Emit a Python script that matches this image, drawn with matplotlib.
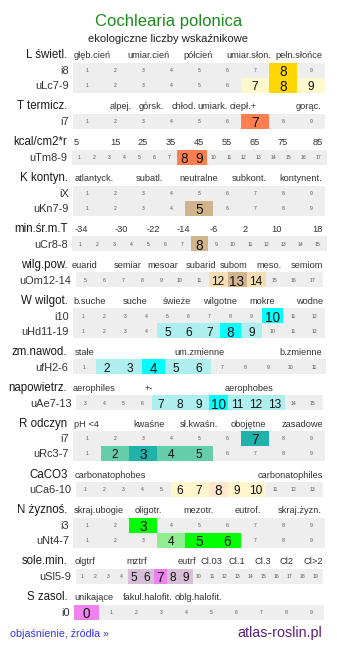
import matplotlib
matplotlib.use("Agg")
import matplotlib.pyplot as plt

plt.rcParams['font.family'] = ['Liberation Sans', 'DejaVu Sans']

# ---------------- data ----------------
title = "Cochlearia polonica"
subtitle = "ekologiczne liczby wskaźnikowe"
footer_left = "objaśnienie, źródła »"
footer_right = "atlas-roslin.pl"

group_names = ["L świetl.", "T termicz.", "kcal/cm2*r", "K kontyn.", "min.śr.m.T",
               "wilg.pow.", "W wilgot.", "zm.nawod.", "napowietrz.", "R odczyn",
               "CaCO3", "N żyznoś.", "sole.min.", "S zasol."]

scale_labels = [
    ["głęb.cień", "umiar.cień", "półcień", "umiar.słon.", "pełn.słońce"],
    ["alpej.", "górsk.", "chłod.", "umiark.", "ciepł.+", "gorąc."],
    ["5", "15", "25", "35", "45", "55", "65", "75", "85"],
    ["atlantyck.", "subatl.", "neutralne", "subkont.", "kontynent."],
    ["-34", "-30", "-22", "-14", "-6", "2", "10", "18"],
    ["euarid", "semiar", "mesoar", "subarid", "subom", "meso.", "semiom"],
    ["b.suche", "suche", "świeże", "wilgotne", "mokre", "wodne"],
    ["stałe", "um.zmienne", "b.zmienne"],
    ["aerophiles", "+-", "aerophobes"],
    ["pH <4", "kwaśne", "sł.kwaśn.", "obojętne", "zasadowe"],
    ["carbonatophobes", "carbonatophiles"],
    ["skraj.ubogie", "oligotr.", "mezotr.", "eutrof.", "skraj.żyzn."],
    ["olgtrf", "mztrf", "eutrf", "Cl.03", "Cl.1", "Cl.3", "Cl2", "Cl>2"],
    ["unikające", "fakul.halofit.", "oblg.halofit."],
]

row_group = [0, 0, 1, 2, 3, 3, 4, 5, 6, 6, 7, 8, 9, 9, 10, 11, 11, 12, 13]
row_names = ["i8", "uLc7-9", "i7", "uTm8-9", "iX", "uKn7-9", "uCr8-8", "uOm12-14",
             "i10", "uHd11-19", "ufH2-6", "uAe7-13", "i7", "uRc3-7", "uCa6-10",
             "i3", "uNt4-7", "uSl5-9", "i0"]
row_first = [1, 1, 1, 1, 1, 1, 1, 5, 1, 1, 1, 3, 1, 1, 1, 1, 1, 1, 0]
row_last = [9, 9, 9, 17, 9, 9, 15, 17, 12, 12, 11, 15, 9, 9, 13, 9, 9, 19, 9]
row_dark = [[8], [8], [7], [8, 9], [], [5], [8], [13], [10], [8], [4], [10],
            [7], [3], [8], [3], [5, 6], [7], [0]]
row_light = [[], [7, 9], [], [], [], [], [], [12, 14], [], [5, 6, 7, 9],
             [2, 3, 5, 6], [7, 8, 9, 11, 12, 13], [], [2, 4, 5], [6, 7, 9, 10],
             [], [4], [5, 6, 8, 9], []]

# ---------------- styles / layout ----------------
group_dark_color = ["#ffd700", "#ff7f50", "#ff7f50", "#d2b48c", "#d2b48c", "#d2b48c",
                    "#00ffff", "#00ffff", "#00ffff", "#20b2aa", "#ffe6cc", "#00ff00",
                    "#ee82ee", "#ee82ee"]
group_light_color = ["#fff8cc", "#ffc8b0", "#ffc8b0", "#f5deb3", "#f5deb3", "#f5deb3",
                     "#afeeee", "#afeeee", "#afeeee", "#66cdaa", "#fff6cc", "#90ee90",
                     "#d8bfd8", "#d8bfd8"]
scale_label_x = [
    [92, 148, 198, 249, 299],
    [121, 151.5, 183.5, 212.5, 243.5, 309],
    [76, 115, 143, 171, 199, 227, 255, 283, 318],
    [94.5, 149, 199, 249, 301],
    [81, 121.5, 153, 183, 214, 245, 276, 317.5],
    [85, 127.5, 162.5, 200.5, 233.5, 269, 307],
    [89.5, 135.5, 177, 220, 262, 310],
    [85, 199.5, 301],
    [94.5, 149, 249],
    [86, 149, 198.5, 248.5, 302],
    [110, 290.5],
    [99, 148.5, 198.5, 247.5, 300],
    [85, 136.5, 186.5, 211, 237, 262.5, 286, 313.5],
    [93.5, 148, 198],
]

W, H = 337, 649
BAR_X0, BAR_W = 73, 252
ROW_H = 15
GRAY = "#eeeeee"

fig = plt.figure(figsize=(W / 100, H / 100), dpi=100)
ax = fig.add_axes([0, 0, 1, 1])
ax.set_xlim(0, W)
ax.set_ylim(H, 0)
ax.axis('off')

ax.text(W / 2, 26, title, ha='center', va='baseline', fontsize=12, color="#1e8a1e")
ax.text(W / 2, 42, subtitle, ha='center', va='baseline', fontsize=8.1, color="#222222")

y = 58.5
ri = 0
for g, gname in enumerate(group_names):
    ax.text(67.5, y, gname, ha='right', va='baseline', fontsize=8.3, color="#1a1a1a")
    for lab, lx in zip(scale_labels[g], scale_label_x[g]):
        ax.text(lx, y, lab, ha='center', va='baseline', fontsize=6.7, color="#333333")
    top = y + 4.3
    while ri < len(row_names) and row_group[ri] == g:
        vals = list(range(row_first[ri], row_last[ri] + 1))
        n = len(vals)
        cw = round(BAR_W / n)
        x0 = BAR_X0 + (BAR_W - n * cw) / 2
        yc = top + ROW_H / 2
        colors = []
        for v in vals:
            if v in row_dark[ri]:
                colors.append(group_dark_color[g])
            elif v in row_light[ri]:
                colors.append(group_light_color[g])
            else:
                colors.append(GRAY)
        lefts = [x0 + k * cw for k in range(n)]
        ax.barh([yc] * n, [cw] * n, left=lefts, height=ROW_H, color=colors,
                edgecolor='none', linewidth=0)
        for k, v in enumerate(vals):
            cx = lefts[k] + cw / 2
            if v in row_dark[ri]:
                ax.text(cx, yc + 0.5, str(v), ha='center', va='center_baseline',
                        fontsize=9.8, color="#111111")
            elif v in row_light[ri]:
                ax.text(cx, yc + 0.5, str(v), ha='center', va='center_baseline',
                        fontsize=8.6, color="#111111")
            else:
                ax.text(cx, yc, str(v), ha='center', va='center_baseline',
                        fontsize=3.7, color="#555555")
        ax.text(x0 - 4, yc, row_names[ri], ha='right', va='center_baseline',
                fontsize=7.9, color="#333333")
        top += ROW_H
        ri += 1
    y = top + 16.6

ax.text(10, 637, footer_left, ha='left', va='baseline', fontsize=7.7, color="#3333ee")
ax.text(322, 637, footer_right, ha='right', va='baseline', fontsize=10.3, color="#5b1f7f")

fig.savefig("out.png", dpi=100)
